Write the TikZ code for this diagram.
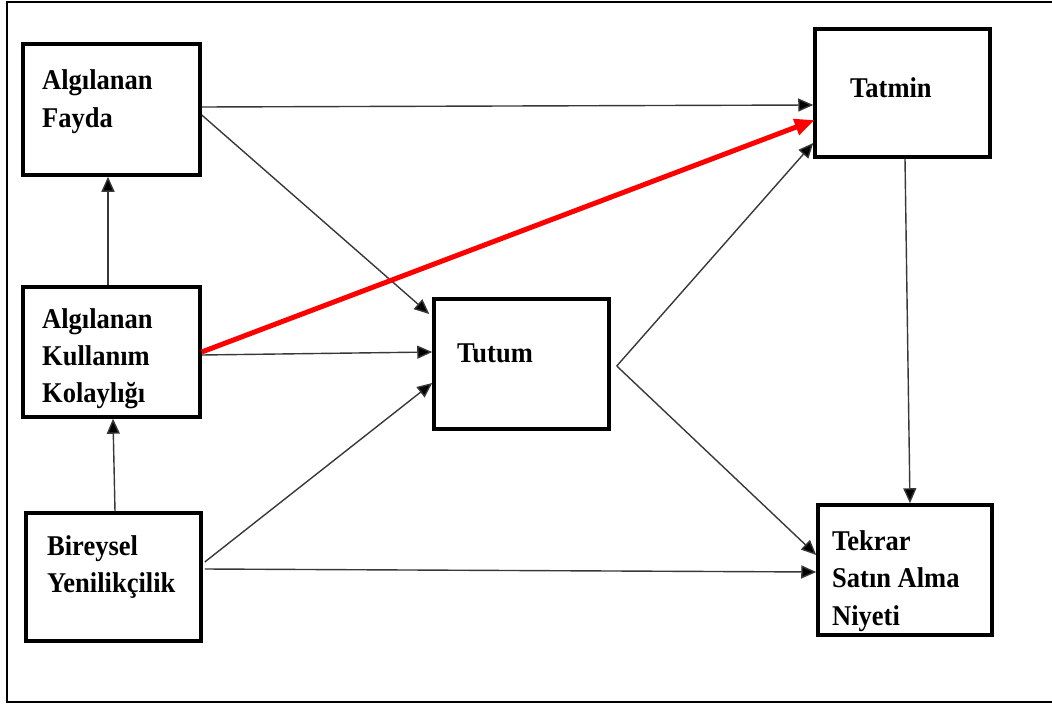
\documentclass[tikz,border=0pt]{standalone}
\usepackage{fontspec}
\setmainfont{Liberation Serif}
\usetikzlibrary{arrows.meta}

% slightly taller bold lettering
\newcommand{\boxtext}[1]{\scalebox{1}[1.08]{#1}}

\tikzset{
  box/.style={draw=black, line width=3.5pt, inner sep=0pt},
  lbl/.style={anchor=base west, inner sep=0pt, font=\bfseries\fontsize{26.5}{32}\selectfont},
  link/.style={draw=black!78, line width=1.4pt,
    -{Triangle[length=15pt, width=13pt, fill=black]}},
  keylink/.style={draw=red, line width=5pt,
    -{Triangle[length=20pt, width=16pt, fill=red]}},
  frameline/.style={draw=black, line width=1.6pt}
}

\begin{document}
\begin{tikzpicture}[x=1pt, y=-1pt]
  \useasboundingbox (0,0) rectangle (1052,706);

  % outer frame (open on the right)
  \draw[frameline] (1052,2) -- (7,2) -- (7,702) -- (1052,702);

  % construct boxes
  \node[box, minimum width=177pt, minimum height=131pt] (fayda)  at (111.5,109.5) {};
  \node[box, minimum width=177pt, minimum height=130pt] (kolay)  at (111.5,352) {};
  \node[box, minimum width=175pt, minimum height=128pt] (birey)  at (113.5,577) {};
  \node[box, minimum width=175pt, minimum height=130pt] (tutum)  at (521.5,364) {};
  \node[box, minimum width=175pt, minimum height=128pt] (tatmin) at (902.5,93) {};
  \node[box, minimum width=174pt, minimum height=130pt] (tekrar) at (905,570) {};

  % box texts
  \node[lbl] (fayda1) at (42,90)  {\boxtext{Algılanan}};
  \node[lbl] (fayda2) at (42,128) {\boxtext{Fayda}};
  \node[lbl] (kolay1) at (42,328) {\boxtext{Algılanan}};
  \node[lbl] (kolay2) at (42,365) {\boxtext{Kullanım}};
  \node[lbl] (kolay3) at (42,402) {\boxtext{Kolaylığı}};
  \node[lbl] (birey1) at (47,555) {\boxtext{Bireysel}};
  \node[lbl] (birey2) at (47,592) {\boxtext{Yenilikçilik}};
  \node[lbl] (tutum1) at (457,362) {\boxtext{Tutum}};
  \node[lbl] (tatmin1) at (850,98) {\boxtext{Tatmin}};
  \node[lbl] (tekrar1) at (832,550) {\boxtext{Tekrar}};
  \node[lbl] (tekrar2) at (832,587) {\boxtext{Satın Alma}};
  \node[lbl] (tekrar3) at (832,625) {\boxtext{Niyeti}};

  % split point to the right of Tutum
  \coordinate (split) at ([xshift=6pt, yshift=-2pt]tutum.east);

  % paths
  \draw[link] ([yshift=2.5pt]fayda.east) -- ([yshift=-12pt]tatmin.west);
  \draw[link] ([yshift=-5.5pt]fayda.east) -- ([xshift=-3pt, yshift=50pt]tutum.west);
  \draw[link] ([xshift=-3.5pt]kolay.north) -- ([xshift=-3.5pt]fayda.south);
  \draw[link] ([yshift=-3pt]kolay.east) -- ([yshift=12pt]tutum.west);
  \draw[link] ([xshift=1.5pt]birey.north) -- ([xshift=1.5pt]kolay.south);
  \draw[link] ([xshift=2pt, yshift=15pt]birey.east) -- ([yshift=-19pt]tutum.west);
  \draw[link] ([xshift=2pt, yshift=8pt]birey.east) -- ([yshift=-2pt]tekrar.west);
  \draw[link] (split) -- ([yshift=-50pt]tatmin.west);
  \draw[link] (split) -- ([yshift=15pt]tekrar.west);
  \draw[link] ([xshift=2.5pt]tatmin.south) -- ([xshift=5pt]tekrar.north);

  % highlighted path
  \draw[keylink] (kolay.east) -- ([xshift=1.5pt, yshift=-27pt]tatmin.west);
\end{tikzpicture}
\end{document}
